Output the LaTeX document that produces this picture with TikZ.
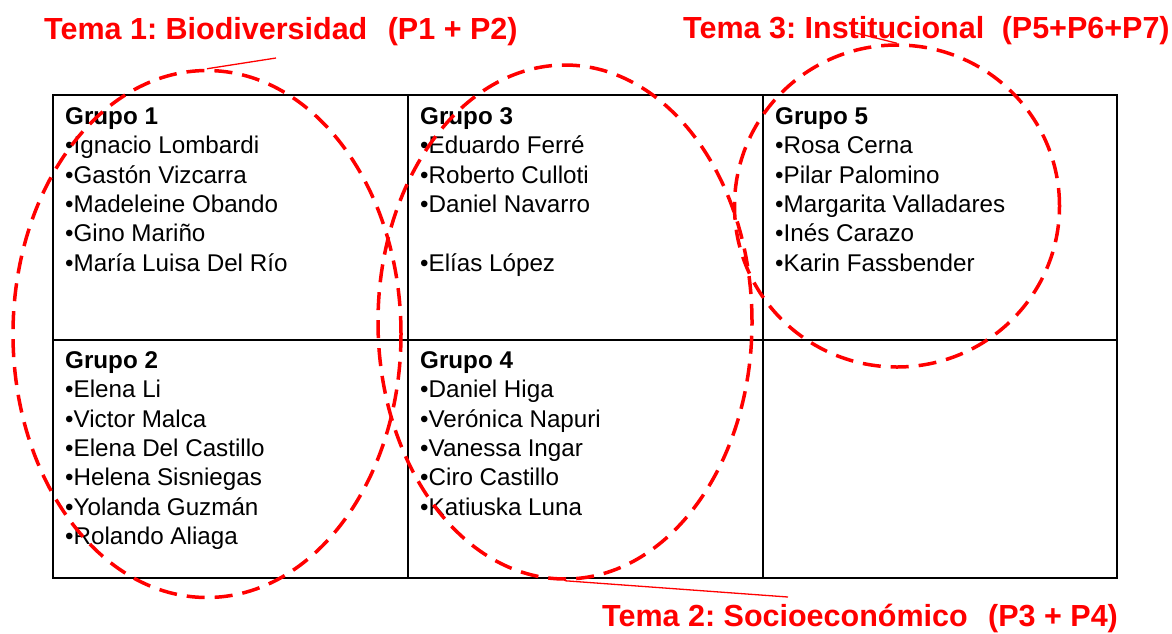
\documentclass[tikz,border=0pt]{standalone}
\usepackage{fontspec}
\setmainfont{Liberation Sans}
\usetikzlibrary{shapes.geometric, positioning, calc}
\frenchspacing

\begin{document}
\begin{tikzpicture}[x=1pt, y=-1pt,
  celda/.style={anchor=north west, align=left, inner sep=0pt, font=\fontsize{24.2}{29.3}\selectfont},
  tema/.style={anchor=base west, inner sep=0pt, text=red, font=\fontsize{30.5}{36}\selectfont\bfseries},
  zona/.style={draw=red, ellipse, inner sep=0pt, line width=3.5pt, dash pattern=on 18pt off 10pt},
  guia/.style={red, line width=1.3pt}]
\useasboundingbox (0,0) rectangle (1172,633);

% Table
\draw[line width=1.6pt] (53,95) rectangle (1117,578);
\draw[line width=1.6pt] (408,95) -- (408,578);
\draw[line width=1.6pt] (763,95) -- (763,578);
\draw[line width=1.6pt] (53,340) -- (1117,340);

% Groups
\node[celda] (g1) at (65,107.5) {\textbf{Grupo 1}\\•Ignacio Lombardi\\•Gastón Vizcarra\\•Madeleine Obando\\•Gino Mariño\\•María Luisa Del Río};
\node[celda] (g2) at (65,351.5) {\textbf{Grupo 2}\\•Elena Li\\•Victor Malca\\•Elena Del Castillo\\•Helena Sisniegas\\•Yolanda Guzmán\\•Rolando Aliaga};
\node[celda] (g3) at (420,107.5) {\textbf{Grupo 3}\\•Eduardo Ferré\\•Roberto Culloti\\•Daniel Navarro\\\strut\\•Elías López};
\node[celda] (g4) at (420,351.5) {\textbf{Grupo 4}\\•Daniel Higa\\•Verónica Napuri\\•Vanessa Ingar\\•Ciro Castillo\\•Katiuska Luna};
\node[celda] (g5) at (775,107.5) {\textbf{Grupo 5}\\•Rosa Cerna\\•Pilar Palomino\\•Margarita Valladares\\•Inés Carazo\\•Karin Fassbender};

% Themes
\node[zona, minimum width=388, minimum height=527] (zona1) at (207,334) {};
\node[zona, minimum width=374, minimum height=514] (zona2) at (565,322) {};
\node[zona, minimum width=325, minimum height=322] (zona3) at (897,206) {};

\node[tema] (tema1) at (44,39) {Tema 1: Biodiversidad\hspace{12pt} (P1 + P2)};
\node[tema] (tema2) at (602,626) {Tema 2: Socioeconómico\hspace{12pt} (P3 + P4)};
\node[tema] (tema3) at (683,38) {Tema 3: Institucional\hspace{9pt} (P5+P6+P7)};

\coordinate (t1) at (276,58);
\coordinate (t2) at (788,597);
\coordinate (t3) at (852,32);
\draw[guia] (t1) -- (zona1.north);
\draw[guia] (zona2.south) -- (t2);
\draw[guia] (t3) -- (zona3.north);
\end{tikzpicture}
\end{document}
